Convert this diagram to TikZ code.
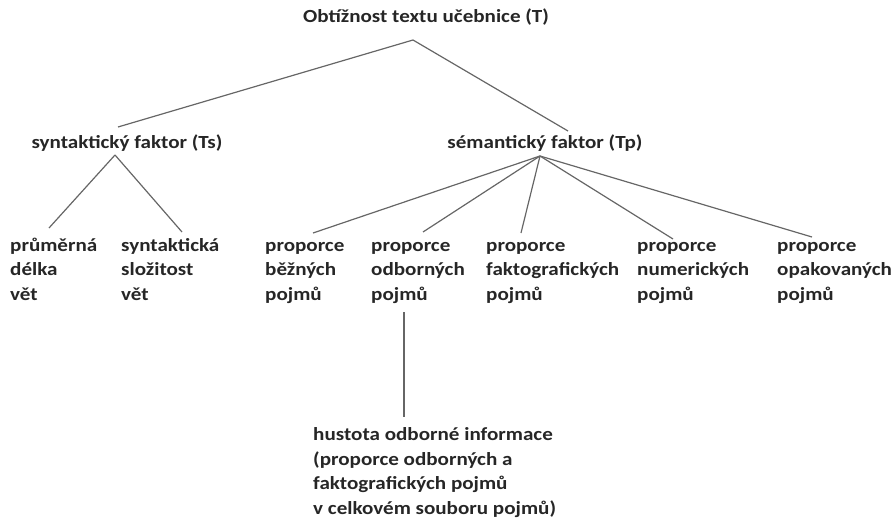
\documentclass[tikz,border=0pt]{standalone}
\usepackage{fontspec}
\setmainfont{Carlito}[FakeStretch=1.14]
\usepackage{tikz}
\usetikzlibrary{calc}

\begin{document}
\begin{tikzpicture}[x=1pt,y=-1pt,
		lbl/.style={font=\bfseries\fontsize{18.5}{24.5}\selectfont, inner sep=0pt, align=left, text=black!85},
		branch/.style={draw=black!60, line width=1.2pt}]
	\useasboundingbox (0,0) rectangle (891,519);

	\node[lbl,anchor=base] (t) at (426,23) {Obtížnost textu učebnice (T)};
	\node[lbl,anchor=base] (ts) at (127,148) {syntaktický faktor (Ts)};
	\node[lbl,anchor=base] (tp) at (545,148) {sémantický faktor (Tp)};

	% base anchor = last line
	\node[lbl,anchor=base west] (delka) at (10,300) {průměrná\\délka\\vět};
	\node[lbl,anchor=base west] (slozitost) at (121,300) {syntaktická\\složitost\\vět};

	\node[lbl,anchor=base west] (bezne) at (265,300) {proporce\\běžných\\pojmů};
	\node[lbl,anchor=base west] (odborne) at (371,300) {proporce\\odborných\\pojmů};
	\node[lbl,anchor=base west] (fakto) at (486,300) {proporce\\faktografických\\pojmů};
	\node[lbl,anchor=base west] (numer) at (637,300) {proporce\\numerických\\pojmů};
	\node[lbl,anchor=base west] (opak) at (777,300) {proporce\\opakovaných\\pojmů};

	\node[lbl,anchor=base west] (hustota) at (313,514) {hustota odborné informace\\(proporce odborných a\\faktografických pojmů\\v celkovém souboru pojmů)};

	\draw[branch] ($(t.base)+(-13,17)$) -- ($(ts.base)+(-9,-21)$);
	\draw[branch] ($(t.base)+(-13,17)$) -- ($(tp.base)+(23,-17)$);

	\draw[branch] ($(ts.base)+(-12,7)$) -- ($(delka.base west)+(39,-72)$);
	\draw[branch] ($(ts.base)+(-12,7)$) -- ($(slozitost.base west)+(61,-68)$);

	\draw[branch] ($(tp.base)+(-5,8)$) -- ($(bezne.base west)+(48,-67)$);
	\draw[branch] ($(tp.base)+(-5,8)$) -- ($(odborne.base west)+(52,-68)$);
	\draw[branch] ($(tp.base)+(-5,8)$) -- ($(fakto.base west)+(35,-67)$);
	\draw[branch] ($(tp.base)+(-5,8)$) -- ($(numer.base west)+(36,-61)$);
	\draw[branch] ($(tp.base)+(-5,8)$) -- ($(opak.base west)+(35,-63)$);

	\draw[branch] ($(odborne.base west)+(33,12)$) -- ($(hustota.base west)+(91,-97)$);
\end{tikzpicture}
\end{document}
